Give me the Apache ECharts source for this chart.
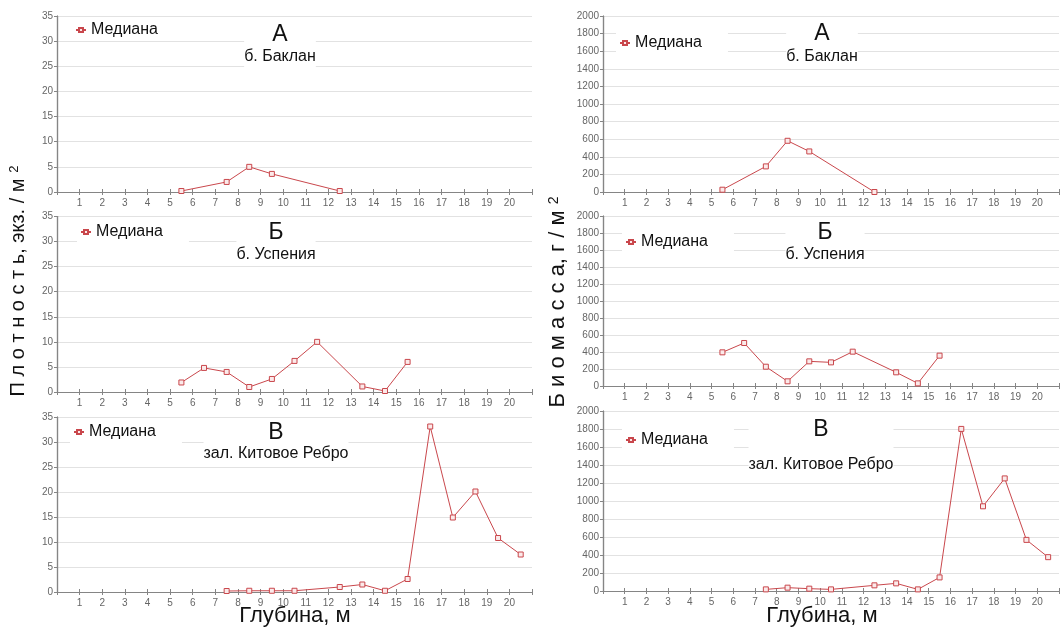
<!DOCTYPE html>
<html>
<head>
<meta charset="utf-8">
<script src="https://cdn.jsdelivr.net/npm/echarts@6/dist/echarts.min.js"></script>
<style>
  html, body { margin: 0; padding: 0; background: #fff; }
  #chart { width: 1062px; height: 628px; }
</style>
</head>
<body>
<div id="chart"></div>
<script>
// depth bins (m) and medians per station
const depthA = [5.5, 7.5, 8.5, 9.5, 12.5];
const densityA = [0.2, 2, 5, 3.6, 0.2];
const biomassA = [26, 291, 582, 461, 0];

const depthB = [5.5, 6.5, 7.5, 8.5, 9.5, 10.5, 11.5, 13.5, 14.5, 15.5];
const densityB = [1.9, 4.8, 4, 1, 2.6, 6.2, 10, 1.1, 0.2, 6];
const biomassB = [396, 506, 227, 55, 290, 278, 404, 161, 31, 357];

const depthC = [7.5, 8.5, 9.5, 10.5, 12.5, 13.5, 14.5, 15.5, 16.5, 17.5, 18.5, 19.5, 20.5];
const densityC = [0.2, 0.25, 0.25, 0.25, 1, 1.5, 0.25, 2.6, 33.1, 14.9, 20.1, 10.8, 7.5];
const biomassC = [18, 37, 26, 18, 63, 85, 18, 151, 1801, 941, 1251, 568, 376];

const xTicks = [1, 2, 3, 4, 5, 6, 7, 8, 9, 10, 11, 12, 13, 14, 15, 16, 17, 18, 19, 20];
const densityTicks = [0, 5, 10, 15, 20, 25, 30, 35];
const biomassTicks = [0, 200, 400, 600, 800, 1000, 1200, 1400, 1600, 1800, 2000];

const letters = ['А', 'Б', 'В'];
const places = ['б. Баклан', 'б. Успения', 'зал. Китовое Ребро'];
const seriesName = 'Медиана';

const red = '#c9474c';
const axisGray = '#858585';
const font = 'Liberation Sans, Arial, sans-serif';

// layout of the six panels
const panels = [
  { grid: { left: 57, top: 16, width: 475, height: 176 }, depth: depthA, vals: densityA, ticks: densityTicks, k: 0, legend: [72, 19], title: [280, 35, 57] },
  { grid: { left: 57, top: 216.5, width: 475, height: 175.5 }, depth: depthB, vals: densityB, ticks: densityTicks, k: 1, legend: [77, 221], title: [276, 233, 255] },
  { grid: { left: 57, top: 417, width: 475, height: 175 }, depth: depthC, vals: densityC, ticks: densityTicks, k: 2, legend: [70, 421], title: [276, 433, 451] },
  { grid: { left: 603, top: 16, width: 465, height: 176 }, depth: depthA, vals: biomassA, ticks: biomassTicks, k: 0, legend: [616, 32], title: [822, 34, 57] },
  { grid: { left: 603, top: 216, width: 465, height: 170 }, depth: depthB, vals: biomassB, ticks: biomassTicks, k: 1, legend: [622, 231], title: [825, 233, 255] },
  { grid: { left: 603, top: 411, width: 465, height: 180 }, depth: depthC, vals: biomassC, ticks: biomassTicks, k: 2, legend: [622, 429], title: [821, 430, 465] },
];

const grids = [], xAxes = [], yAxes = [], series = [], legends = [], titles = [];

panels.forEach((p, i) => {
  grids.push(p.grid);
  const line = { show: true, lineStyle: { color: axisGray, width: 1.2 } };
  const tick = { show: true, inside: true, length: 3, lineStyle: { color: axisGray } };
  xAxes.push({
    type: 'value', gridIndex: i, min: 0, max: 21, interval: 1,
    axisLine: line, axisTick: tick, splitLine: { show: false },
    axisLabel: {
      margin: 6, color: '#666', fontSize: 10, fontFamily: font,
      formatter: v => (xTicks.includes(v) ? String(v) : ''),
    },
  });
  xAxes.push({
    type: 'value', gridIndex: i, position: 'top', min: 0, max: 21, interval: 1,
    axisLine: line, axisTick: tick, axisLabel: { show: false }, splitLine: { show: false },
  });
  const yMin = p.ticks[0], yMax = p.ticks[p.ticks.length - 1], step = p.ticks[1] - p.ticks[0];
  yAxes.push({
    type: 'value', gridIndex: i, min: yMin, max: yMax, interval: step,
    axisLine: line, axisTick: { show: true, length: 3, lineStyle: { color: axisGray } },
    axisLabel: {
      margin: 4, color: '#666', fontSize: 10, fontFamily: font,
      formatter: v => (p.ticks.includes(v) ? String(v) : ''),
    },
    splitLine: { show: true, lineStyle: { color: '#e2e2e2', width: 1 } },
  });
  yAxes.push({
    type: 'value', gridIndex: i, position: 'right', min: yMin, max: yMax, interval: step,
    axisLine: line, axisTick: tick, axisLabel: { show: false }, splitLine: { show: false },
  });
  series.push({
    name: seriesName, type: 'line', xAxisIndex: i * 2, yAxisIndex: i * 2,
    data: p.depth.map((d, j) => [d, p.vals[j]]),
    symbol: 'rect', symbolSize: 5,
    lineStyle: { color: red, width: 1 },
    itemStyle: { color: '#fbeaea', borderColor: red, borderWidth: 1 },
    emphasis: { disabled: true },
    z: 3,
  });
  legends.push({
    data: [seriesName], left: p.legend[0], top: p.legend[1],
    backgroundColor: '#fff', padding: [3, 26, 3, 3],
    itemWidth: 10, itemHeight: 5, selectedMode: false,
    textStyle: { fontSize: 16, color: '#111', fontFamily: font },
  });
  const [cx, ty, sy] = p.title;
  const top = ty - 12 - 2;
  titles.push({
    text: letters[p.k], subtext: places[p.k],
    left: cx, top: top, textAlign: 'center',
    itemGap: Math.max(0, sy - 9 - (top + 2 + 24)),
    padding: [2, 0, 2, 0], backgroundColor: '#fff',
    textStyle: { fontSize: 23, fontWeight: 'normal', color: '#111', fontFamily: font, lineHeight: 24 },
    subtextStyle: { fontSize: 16, color: '#111', fontFamily: font, lineHeight: 18 },
  });
});

const chart = echarts.init(document.getElementById('chart'), null, { renderer: 'canvas' });
chart.setOption({
  animation: false,
  backgroundColor: '#fff',
  title: titles,
  legend: legends,
  grid: grids,
  xAxis: xAxes,
  yAxis: yAxes,
  series: series,
  graphic: [
    {
      type: 'text', x: 18, y: 281, rotation: Math.PI / 2,
      style: {
        text: 'П л о т н о с т ь, экз. / м {sup|2}',
        fontSize: 20, fontFamily: font, fill: '#111', align: 'center', verticalAlign: 'middle',
        rich: { sup: { fontSize: 13, verticalAlign: 'top', fill: '#111' } },
      },
    },
    {
      type: 'text', x: 558, y: 302, rotation: Math.PI / 2,
      style: {
        text: 'Б и о м а с с а, г / м {sup|2}',
        fontSize: 22, fontFamily: font, fill: '#111', align: 'center', verticalAlign: 'middle',
        rich: { sup: { fontSize: 14, verticalAlign: 'top', fill: '#111' } },
      },
    },
    {
      type: 'text', x: 295, y: 616,
      style: { text: 'Глубина, м', fontSize: 22, fontFamily: font, fill: '#111', align: 'center', verticalAlign: 'middle' },
    },
    {
      type: 'text', x: 822, y: 616,
      style: { text: 'Глубина, м', fontSize: 22, fontFamily: font, fill: '#111', align: 'center', verticalAlign: 'middle' },
    },
  ],
});
</script>
</body>
</html>
